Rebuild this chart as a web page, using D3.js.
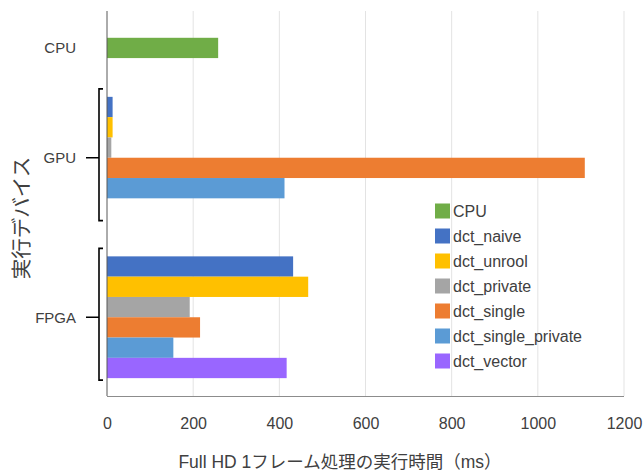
<!DOCTYPE html>
<html>
<head>
<meta charset="utf-8">
<script src="https://cdn.jsdelivr.net/npm/d3@7/dist/d3.min.js"></script>
<style>
  body { margin: 0; background: #fff; }
  svg { display: block; font-family: "Liberation Sans", "Noto Sans CJK JP", sans-serif; }
</style>
</head>
<body>
<svg id="chart" width="643" height="472"></svg>
<script>
// device groups (outer category level)
var groups = ["CPU", "GPU", "FPGA"];
// series, in legend order
var seriesNames = ["CPU", "dct_naive", "dct_unrool", "dct_private", "dct_single", "dct_single_private", "dct_vector"];
var seriesColors = ["#70ad47", "#4472c4", "#ffc000", "#a5a5a5", "#ed7d31", "#5b9bd5", "#9966ff"];
// execution time (ms) per row
var cpuValues = [258];                                 // CPU
var gpuValues = [13, 13, 10, 1109, 412, null];         // dct_naive .. dct_vector
var fpgaValues = [432, 467, 192, 216, 154, 417];       // dct_naive .. dct_vector
var xTicks = [0, 200, 400, 600, 800, 1000, 1200];

var groupRows = [
    { group: groups[0], series: ["CPU"], values: cpuValues },
    { group: groups[1], series: seriesNames.slice(1), values: gpuValues },
    { group: groups[2], series: seriesNames.slice(1), values: fpgaValues }
];

// layout in "row units" (one bar = 1 unit)
var padTop = 1.32, padBottom = 0.88, groupGaps = [1.91, 1.86];

var svg = d3.select("#chart");
var plotL = 107, plotR = 624, plotT = 11, plotB = 396;

var color = d3.scaleOrdinal().domain(seriesNames).range(seriesColors);
var x = d3.scaleLinear().domain([0, 1200]).range([plotL, plotR]);

// build rows with unit offsets
var rows = [];
var cursor = padTop;
groupRows.forEach(function(g, gi) {
    g.start = cursor;
    g.series.forEach(function(s, i) {
        rows.push({ group: g.group, series: s, value: g.values[i], pos: cursor });
        cursor += 1;
    });
    g.end = cursor;
    if (gi < groupGaps.length) cursor += groupGaps[gi];
});
cursor += padBottom;
var y = d3.scaleLinear().domain([0, cursor]).range([plotT, plotB]);
var rowH = y(1) - y(0);

// gridlines
svg.append("g")
    .selectAll("line")
    .data(xTicks.slice(1))
    .enter().append("line")
    .attr("x1", function(d) { return x(d); })
    .attr("x2", function(d) { return x(d); })
    .attr("y1", plotT)
    .attr("y2", plotB)
    .attr("stroke", "#e3e3e3")
    .attr("stroke-width", 1);

// bars
svg.append("g")
    .selectAll("rect")
    .data(rows.filter(function(r) { return r.value != null; }))
    .enter().append("rect")
    .attr("x", x(0))
    .attr("y", function(d) { return y(d.pos); })
    .attr("width", function(d) { return x(d.value) - x(0); })
    .attr("height", rowH)
    .attr("fill", function(d) { return color(d.series); });

// axes lines
svg.append("line")
    .attr("x1", x(0)).attr("x2", x(0))
    .attr("y1", plotT).attr("y2", plotB)
    .attr("stroke", "#595959").attr("stroke-width", 1);
svg.append("line")
    .attr("x1", x(0)).attr("x2", plotR)
    .attr("y1", plotB + 0.5).attr("y2", plotB + 0.5)
    .attr("stroke", "#8c8c8c").attr("stroke-width", 1);

// x tick labels
var xAxis = d3.axisBottom(x).tickValues(xTicks).tickFormat(d3.format("d")).tickSize(0).tickPadding(22);
var gx = svg.append("g")
    .attr("transform", "translate(0," + plotB + ")")
    .call(xAxis);
gx.select(".domain").remove();
gx.selectAll("text")
    .attr("font-size", "16px")
    .attr("font-family", "'Liberation Sans', sans-serif")
    .attr("fill", "#404040");

// group labels and brackets
var bx = 99;
groupRows.forEach(function(g) {
    var mid = (y(g.start) + y(g.end)) / 2;
    svg.append("text")
        .attr("x", 76)
        .attr("y", mid)
        .attr("dy", "0.35em")
        .attr("text-anchor", "end")
        .attr("font-size", "15px")
        .attr("fill", "#404040")
        .text(g.group);
    if (g.series.length > 1) {
        var b0 = y(g.start) - 8, b1 = y(g.end) + 2;
        svg.append("path")
            .attr("d", "M" + (bx + 4) + "," + b0 + "H" + bx + "V" + b1 + "H" + (bx + 4) +
                "M" + bx + "," + mid + "H" + (bx - 13))
            .attr("fill", "none")
            .attr("stroke", "#000")
            .attr("stroke-width", 1.6);
    }
});

// axis titles
svg.append("text")
    .attr("x", 340)
    .attr("y", 462)
    .attr("dy", "0.35em")
    .attr("text-anchor", "middle")
    .attr("font-size", "17.5px")
    .attr("fill", "#404040")
    .text("Full HD 1フレーム処理の実行時間（ms）");

svg.append("text")
    .attr("transform", "translate(22," + 218 + ") rotate(-90)")
    .attr("dy", "0.35em")
    .attr("text-anchor", "middle")
    .attr("font-size", "20.5px")
    .attr("font-family", "'Noto Sans CJK JP', sans-serif")
    .attr("fill", "#404040")
    .text("実行デバイス");

// legend
var legend = svg.append("g")
    .selectAll("g")
    .data(seriesNames)
    .enter().append("g")
    .attr("transform", function(d, i) { return "translate(435," + (211 + i * 25) + ")"; });
legend.append("rect")
    .attr("x", 0).attr("y", -7.5)
    .attr("width", 15).attr("height", 15)
    .attr("fill", function(d) { return color(d); });
legend.append("text")
    .attr("x", 18)
    .attr("dy", "0.35em")
    .attr("font-size", "16px")
    .attr("fill", "#404040")
    .text(function(d) { return d; });
</script>
</body>
</html>
